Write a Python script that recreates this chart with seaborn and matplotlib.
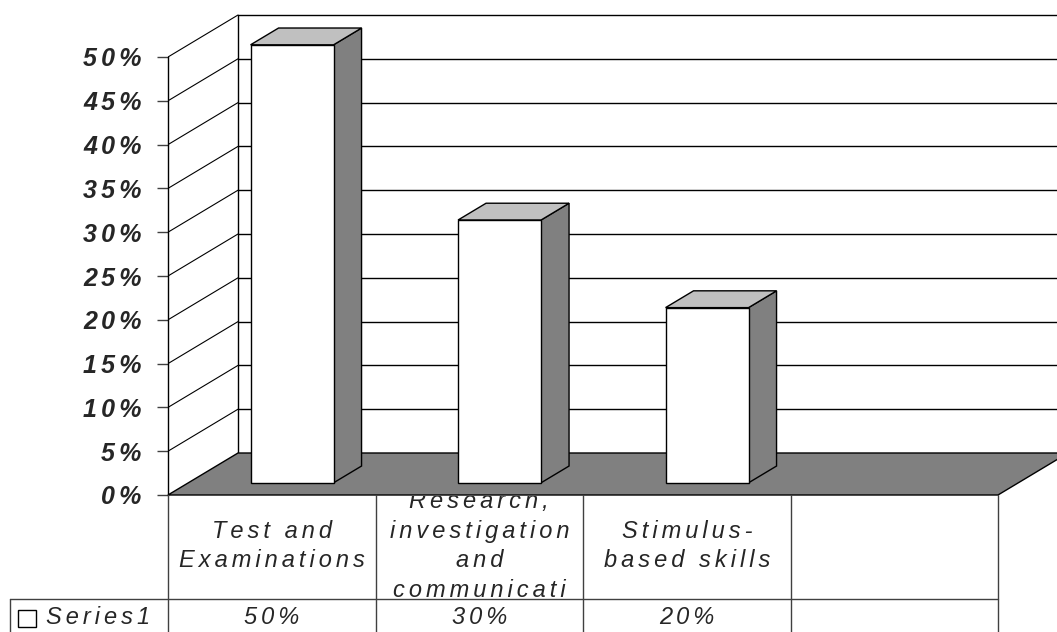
import matplotlib
matplotlib.use('Agg')
import matplotlib.pyplot as plt
import matplotlib.transforms as mtransforms
from matplotlib.patches import Polygon, Rectangle
from matplotlib.lines import Line2D
import seaborn as sns
import pandas as pd

# =============================================================================
# Data
# =============================================================================
categories = ['Test and Examinations',
              'Research, investigation and communication',
              'Stimulus-based skills']
cat_labels = ['Test and\nExaminations',
              'Research,\ninvestigation\nand\ncommunicati',
              'Stimulus-\nbased skills']
values = [50, 30, 20]
value_labels = ['50%', '30%', '20%']
series_name = 'Series1'
y_ticks = [0, 5, 10, 15, 20, 25, 30, 35, 40, 45, 50]
n_slots = 4

df = pd.DataFrame({'category': categories, 'value': values})

# =============================================================================
# Style
# =============================================================================
sns.set_style('white')
plt.rcParams['font.family'] = ['Liberation Sans', 'DejaVu Sans']

W, H = 1057, 632
fig = plt.figure(figsize=(W / 100, H / 100), dpi=100)

# axes covers the front plane of the 3d box: x slots 168..998 px, 0% at y=495
ax = fig.add_axes([168 / W, (H - 495) / H, (998 - 168) / W, 495 / H])
ax.set_xlim(-0.5, n_slots - 0.5)
ax.set_ylim(0, 495 / 8.76)

# depth of the box (data units) and bar depth range
DX = 70 / 207.5
DY = 42 / 8.76
z0, z1 = 0.29, 0.69


def proj(x, y, z):
    return (x + z * DX, y + z * DY)


def spaced(s):
    # wide letter spacing like the original export
    return '\n'.join('\u200a\u200a'.join(line) for line in s.split('\n'))


# back wall gridlines
for t in y_ticks[1:]:
    ax.plot([-0.5 + DX, n_slots - 0.5 + DX], [t + DY, t + DY],
            color='black', lw=1, zorder=1, clip_on=False)
# left wall diagonals and back edge
for t in y_ticks[1:]:
    ax.plot([-0.5, -0.5 + DX], [t, t + DY], color='black', lw=0.8, zorder=1)
ax.plot([-0.5 + DX, -0.5 + DX], [DY, y_ticks[-1] + DY], color='black', lw=1, zorder=1)

# floor
floor = Polygon([proj(-0.5, 0, 0), proj(n_slots - 0.5, 0, 0),
                 proj(n_slots - 0.5, 0, 1), proj(-0.5, 0, 1)],
                closed=True, facecolor='#808080', edgecolor='black', lw=1,
                zorder=2, clip_on=False)
ax.add_patch(floor)

# bars (front faces)
sns.barplot(data=df, x='category', y='value', order=categories, width=0.4,
            color='white', edgecolor='black', linewidth=1, errorbar=None,
            ax=ax, zorder=3)
ax.set_xlim(-0.5, n_slots - 0.5)
ax.set_ylim(0, 495 / 8.76)

shift = mtransforms.Affine2D().translate(z0 * DX, z0 * DY) + ax.transData
for p in list(ax.patches):
    if p is floor:
        continue
    x0, w, h = p.get_x(), p.get_width(), p.get_height()
    p.set_transform(shift)
    p.set_zorder(5)
    side = Polygon([proj(x0 + w, 0, z0), proj(x0 + w, h, z0),
                    proj(x0 + w, h, z1), proj(x0 + w, 0, z1)],
                   closed=True, facecolor='#808080', edgecolor='black', lw=1, zorder=4)
    top = Polygon([proj(x0, h, z0), proj(x0 + w, h, z0),
                   proj(x0 + w, h, z1), proj(x0, h, z1)],
                  closed=True, facecolor='#c0c0c0', edgecolor='black', lw=1, zorder=4)
    ax.add_patch(side)
    ax.add_patch(top)

# axis styling
for s in ['top', 'right', 'bottom']:
    ax.spines[s].set_visible(False)
ax.spines['left'].set_bounds(0, 50)
ax.spines['left'].set_color('black')
ax.spines['left'].set_linewidth(1)
ax.set_yticks(y_ticks)
ax.set_yticklabels([spaced(f'{t}%') for t in y_ticks], fontsize=18,
                   fontweight='bold', fontstyle='italic')
ax.tick_params(axis='y', left=True, length=8, width=1, color='#404040', pad=11)
ax.set_xticks([])
ax.set_xlabel('')
ax.set_ylabel('')

# =============================================================================
# Data table under the chart
# =============================================================================
tb = mtransforms.blended_transform_factory(ax.transData, fig.transFigure)


def fy(px_from_top):
    return (H - px_from_top) / H


line_kw = dict(color='#404040', lw=1)
for i in range(n_slots + 1):
    fig.add_artist(Line2D([i - 0.5, i - 0.5], [fy(495), fy(H)], transform=tb, **line_kw))
fig.add_artist(Line2D([10 / W, 998 / W], [fy(599), fy(599)],
                      transform=fig.transFigure, **line_kw))
fig.add_artist(Line2D([10 / W, 10 / W], [fy(599), fy(H)],
                      transform=fig.transFigure, **line_kw))

for i, lab in enumerate(cat_labels):
    t = fig.text(i, fy(546), spaced(lab), transform=tb, ha='center', va='center',
                 fontsize=17, fontstyle='italic', linespacing=1.38, zorder=1)
    clip = mtransforms.TransformedBbox(
        mtransforms.Bbox.from_extents(i - 0.5, fy(599), i + 0.5, fy(496)), tb)
    t.set_clip_box(clip)
    t.set_clip_on(True)

for i, v in enumerate(value_labels):
    fig.text(i, fy(618), spaced(v), transform=tb, ha='center', va='center',
             fontsize=17, fontstyle='italic')

fig.add_artist(Rectangle((18 / W, fy(627)), 18 / W, 17 / H, transform=fig.transFigure,
                         facecolor='white', edgecolor='black', lw=1))
fig.text(46 / W, fy(618), spaced(series_name), ha='left', va='center',
         fontsize=17, fontstyle='italic')

plt.savefig('out.png', dpi=100)
